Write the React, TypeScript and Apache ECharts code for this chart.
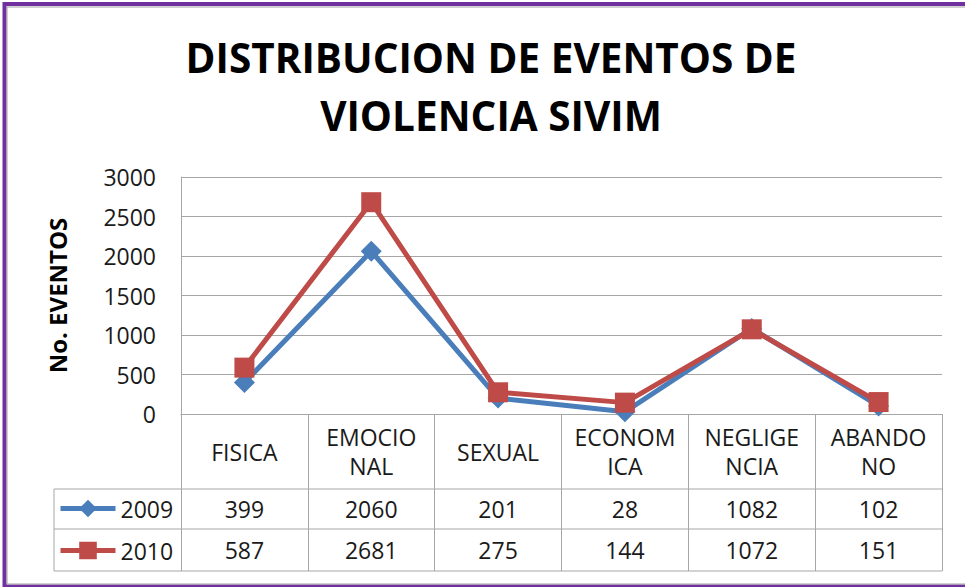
import React, { useEffect, useRef } from 'react';
import * as echarts from 'echarts';

const categories = ['FISICA', 'EMOCIONAL', 'SEXUAL', 'ECONOMICA', 'NEGLIGENCIA', 'ABANDONO'];
const categoryLabels = ['FISICA', 'EMOCIO\nNAL', 'SEXUAL', 'ECONOM\nICA', 'NEGLIGE\nNCIA', 'ABANDO\nNO'];
const seriesNames = ['2009', '2010'];
const values2009 = [399, 2060, 201, 28, 1082, 102];
const values2010 = [587, 2681, 275, 144, 1072, 151];
const yMin = 0;
const yMax = 3000;
const yInterval = 500;
const titleLines = ['DISTRIBUCION DE EVENTOS DE', 'VIOLENCIA SIVIM'];
const yAxisTitle = 'No. EVENTOS';

const FONT = "'Open Sans', sans-serif";
const GRID_LEFT = 181;
const GRID_RIGHT_X = 942;
const GRID_TOP = 177;
const AXIS_Y = 414;
const HEADER_H = 75;
const ROW1_H = 40;
const ROW2_H = 42;
const LEGEND_X = 54;
const GRAY = '#a6a6a6';
const TEXT = '#1a1a1a';

export default function App() {
  const ref = useRef<HTMLDivElement>(null);
  useEffect(() => {
    document.body.style.margin = '0';
    if (!ref.current) return;
    const chart = echarts.init(ref.current, undefined, { renderer: 'svg' });
    const row1Y = AXIS_Y + HEADER_H;
    const row2Y = row1Y + ROW1_H;
    const endY = row2Y + ROW2_H;
    const line = (x1: number, y1: number, x2: number, y2: number) => ({
      type: 'line',
      silent: true,
      shape: { x1, y1, x2, y2 },
      style: { stroke: GRAY, lineWidth: 1 },
    });
    chart.setOption({
      animation: false,
      backgroundColor: '#ffffff',
      title: {
        text: titleLines.join('\n'),
        left: 491,
        top: 28,
        padding: 0,
        textAlign: 'center',
        textStyle: {
          fontFamily: FONT,
          fontWeight: 'bold',
          fontSize: 40.5,
          lineHeight: 58,
          color: '#000000',
        },
      },
      legend: {
        data: seriesNames,
        orient: 'vertical',
        left: 58,
        top: row1Y + 8,
        padding: 0,
        itemWidth: 55,
        itemHeight: 22,
        itemGap: 19,
        selectedMode: false,
        lineStyle: { width: 5 },
        textStyle: { fontFamily: FONT, fontSize: 23, lineHeight: 22, color: TEXT },
      },
      grid: {
        left: GRID_LEFT,
        top: GRID_TOP,
        width: GRID_RIGHT_X - GRID_LEFT,
        height: AXIS_Y - GRID_TOP,
        containLabel: false,
        outerBoundsMode: 'none',
      },
      xAxis: [
        {
          type: 'category',
          data: categories,
          boundaryGap: true,
          axisLine: { show: true, lineStyle: { color: GRAY, width: 1 } },
          axisTick: {
            show: true,
            inside: false,
            length: endY - AXIS_Y,
            interval: 0,
            alignWithLabel: false,
            lineStyle: { color: GRAY, width: 1 },
          },
          splitLine: { show: false },
          axisLabel: {
            interval: 0,
            margin: HEADER_H / 2,
            verticalAlign: 'middle',
            lineHeight: 29,
            fontFamily: FONT,
            fontSize: 23,
            color: TEXT,
            formatter: (_v: string, i: number) => categoryLabels[i],
          },
        },
        {
          type: 'category',
          data: values2009.map(String),
          position: 'bottom',
          offset: HEADER_H,
          axisLine: { show: false },
          axisTick: { show: false },
          splitLine: { show: false },
          axisLabel: {
            interval: 0,
            margin: ROW1_H / 2,
            verticalAlign: 'middle',
            fontFamily: FONT,
            fontSize: 23,
            color: TEXT,
          },
        },
        {
          type: 'category',
          data: values2010.map(String),
          position: 'bottom',
          offset: HEADER_H + ROW1_H,
          axisLine: { show: false },
          axisTick: { show: false },
          splitLine: { show: false },
          axisLabel: {
            interval: 0,
            margin: ROW2_H / 2,
            verticalAlign: 'middle',
            fontFamily: FONT,
            fontSize: 23,
            color: TEXT,
          },
        },
      ],
      yAxis: {
        type: 'value',
        min: yMin,
        max: yMax,
        interval: yInterval,
        name: yAxisTitle,
        nameLocation: 'middle',
        nameGap: 112,
        nameRotate: 90,
        nameTextStyle: { fontFamily: FONT, fontWeight: 'bold', fontSize: 24, color: '#000000' },
        axisLine: { show: true, lineStyle: { color: GRAY, width: 1 } },
        axisTick: { show: false },
        splitLine: { show: true, lineStyle: { color: GRAY, width: 1 } },
        axisLabel: {
          margin: 25,
          fontFamily: FONT,
          fontSize: 23,
          color: TEXT,
          formatter: (v: number) => String(v),
        },
      },
      series: [
        {
          name: seriesNames[0],
          type: 'line',
          data: values2009,
          symbol: 'diamond',
          symbolSize: 21,
          lineStyle: { width: 5, color: '#4a7ebb' },
          itemStyle: { color: '#4a7ebb' },
          z: 2,
        },
        {
          name: seriesNames[1],
          type: 'line',
          data: values2010,
          symbol: 'rect',
          symbolSize: 20,
          lineStyle: { width: 5, color: '#be4b48' },
          itemStyle: { color: '#be4b48' },
          z: 3,
        },
      ],
      graphic: [
        {
          type: 'rect',
          silent: true,
          shape: { x: 4.5, y: 4, width: 1000, height: 582.5 },
          style: { fill: 'none', stroke: '#7030a0', lineWidth: 4 },
        },
        {
          type: 'rect',
          silent: true,
          shape: { x: 7, y: 7, width: 1000, height: 577 },
          style: { fill: 'none', stroke: '#a0a0a0', lineWidth: 1 },
        },
        line(LEGEND_X, row1Y, GRID_RIGHT_X, row1Y),
        line(LEGEND_X, row2Y, GRID_RIGHT_X, row2Y),
        line(LEGEND_X, endY, GRID_RIGHT_X, endY),
        line(LEGEND_X, row1Y, LEGEND_X, endY),
      ],
    });
    return () => chart.dispose();
  }, []);
  return <div ref={ref} style={{ width: 965, height: 587 }} />;
}
